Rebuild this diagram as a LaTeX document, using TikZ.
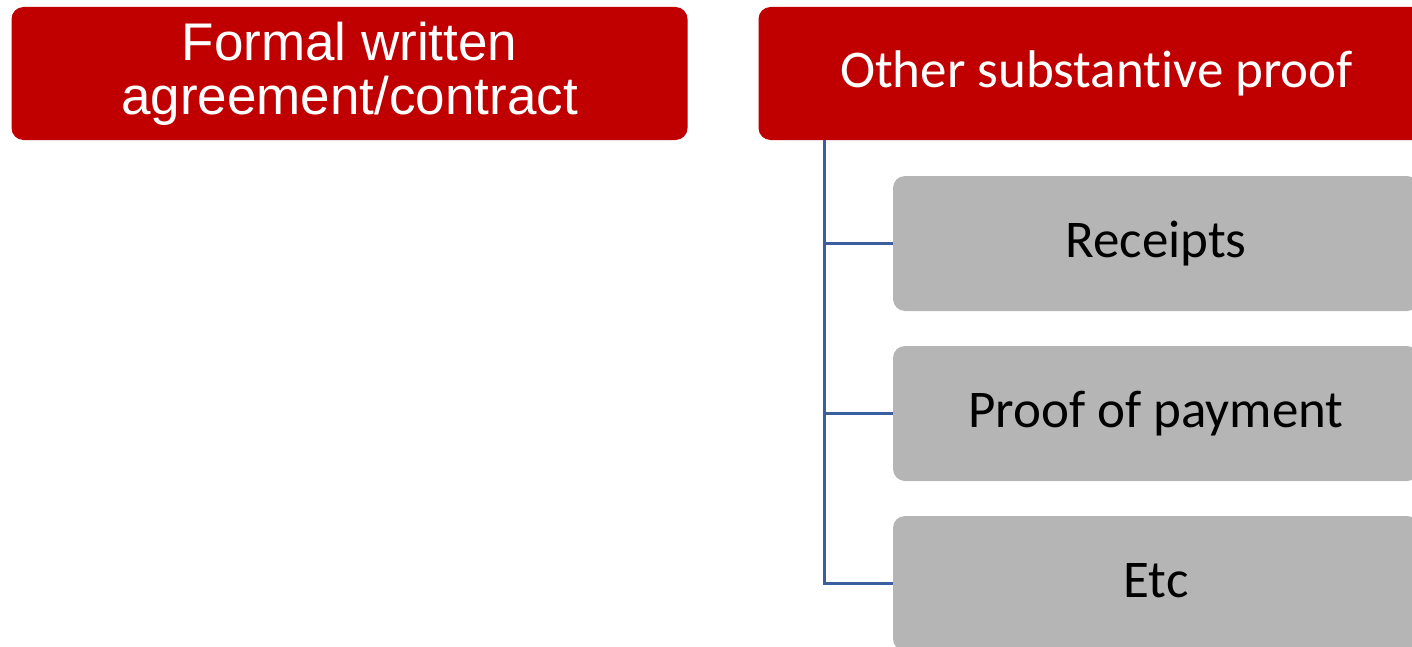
\documentclass[tikz,border=0pt]{standalone}
\usepackage{fontspec}
\usepackage{tikz}
\setmainfont[RawFeature={-liga;-calt}]{Carlito}
\newfontfamily\arialfont{Liberation Sans}
\definecolor{boxred}{RGB}{192,0,0}
\definecolor{boxgray}{RGB}{181,181,181}
\definecolor{linkblue}{RGB}{59,94,160}

\begin{document}
\begin{tikzpicture}[x=0.5pt, y=-0.5pt,
    head/.style={fill=boxred, text=white, rounded corners=6pt, inner sep=0pt, minimum width=338pt, minimum height=66.5pt, align=center, font=\fontsize{26.5}{27}\selectfont},
    item/.style={fill=boxgray, text=black, rounded corners=6pt, inner sep=0pt, minimum width=263pt, minimum height=67.5pt, text height=19pt, text depth=5pt, font=\fontsize{26.5}{27}\selectfont},
    link/.style={draw=linkblue, line width=1.5pt}]
    \useasboundingbox (0,0) rectangle (1412,647);
    \node [head, font=\arialfont\fontsize{26.5}{27}\selectfont](formal) at (349.5,73.5) {Formal written\\agreement/contract};
    \node [head, text height=19pt, text depth=5pt](other) at (1096.5,73.5) {Other substantive proof};
    \node [item](receipts) at (1156,243.5) {Receipts};
    \node [item](payment) at (1156,413.5) {Proof of payment};
    \node [item](etc) at (1156,583.5) {Etc};
    \draw [link] ([xshift=33pt]other.south west) |- (receipts.west);
    \draw [link] ([xshift=33pt]other.south west) |- (payment.west);
    \draw [link] ([xshift=33pt]other.south west) |- (etc.west);
\end{tikzpicture}
\end{document}
